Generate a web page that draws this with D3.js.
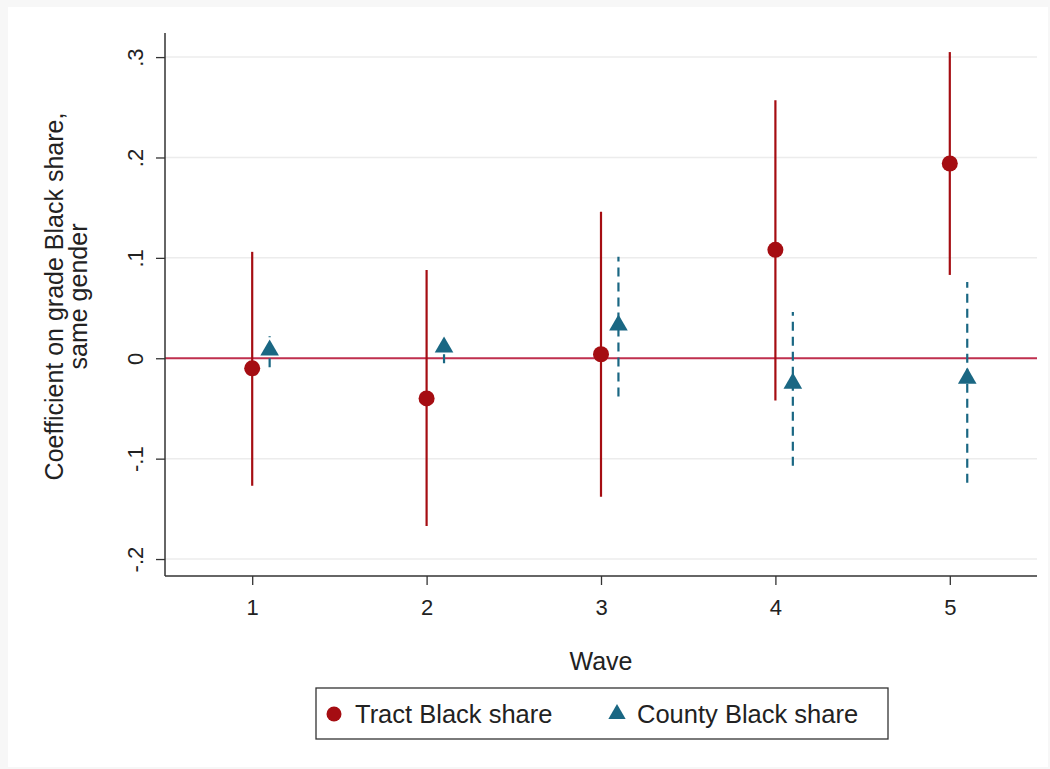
<!DOCTYPE html>
<html><head><meta charset="utf-8">
<script src="https://cdn.jsdelivr.net/npm/d3@7/dist/d3.min.js"></script>
<style>body{margin:0;background:#fff}svg{display:block}text{font-family:"Liberation Sans",Arial,sans-serif;fill:#222}</style>
</head><body><svg id="c" width="1050" height="769"></svg>
<script>
const waves = [1, 2, 3, 4, 5];
const tractCoef = [-0.010, -0.040, 0.004, 0.108, 0.194];
const tractLo = [-0.127, -0.167, -0.138, -0.042, 0.083];
const tractHi = [0.106, 0.088, 0.146, 0.257, 0.305];
const countyCoef = [0.008, 0.011, 0.033, -0.025, -0.020];
const countyLo = [-0.009, -0.005, -0.038, -0.107, -0.124];
const countyHi = [0.022, 0.025, 0.101, 0.046, 0.076];
const countyOffset = 0.1;
const yTicks = [-0.2, -0.1, 0, 0.1, 0.2, 0.3];
const yTickLabels = ["-.2", "-.1", "0", ".1", ".2", ".3"];
const legendLabels = ["Tract Black share", "County Black share"];

const tractColor = "#a50d12", countyColor = "#1a6783", zeroColor = "#c0304f";
const svg = d3.select("#c");
svg.append("rect").attr("width",1050).attr("height",769).attr("fill","#f7f7f7");
svg.append("rect").attr("x",8).attr("y",7).attr("width",1040).attr("height",760).attr("fill","#fff");

const L = 165, R = 1037, T = 33, B = 576;
const x = d3.scaleLinear().domain([0.5, 5.5]).range([L, R]);
const y = d3.scaleLinear().domain([-0.2169, 0.324]).range([B, T]);

// gridlines
svg.append("g").selectAll("line").data(yTicks).join("line")
  .attr("x1", L).attr("x2", R).attr("y1", d=>y(d)).attr("y2", d=>y(d))
  .attr("stroke", "#ececec").attr("stroke-width", 1.5);

// zero line
svg.append("line").attr("x1", L).attr("x2", R).attr("y1", y(0)).attr("y2", y(0))
  .attr("stroke", zeroColor).attr("stroke-width", 2);

// y axis
const yAxis = svg.append("g").attr("transform", `translate(${L},0)`)
  .call(d3.axisLeft(y).tickValues(yTicks).tickSize(9).tickFormat((d,i)=>yTickLabels[i]));
yAxis.select(".domain").attr("d", `M0,${T}V${B}`).attr("stroke","#333").attr("stroke-width",1.5);
yAxis.selectAll(".tick line").attr("stroke","#333").attr("stroke-width",1.3);
yAxis.selectAll(".tick text").attr("font-size", 22).attr("fill","#222")
  .attr("x", 0).attr("y", 0).attr("dx", 0).attr("dy", 0).attr("text-anchor","middle")
  .attr("transform", "translate(-22,0) rotate(-90)");

// x axis
const xAxis = svg.append("g").attr("transform", `translate(0,${B})`)
  .call(d3.axisBottom(x).tickValues(waves).tickSize(9).tickFormat(d3.format("d")));
xAxis.select(".domain").attr("d", `M${L},0H${R}`).attr("stroke","#333").attr("stroke-width",1.5);
xAxis.selectAll(".tick line").attr("stroke","#333").attr("stroke-width",1.3);
xAxis.selectAll(".tick text").attr("font-size", 22).attr("y", 23).attr("fill","#222");

// titles
svg.append("text").attr("x", x(3)).attr("y", 670).attr("text-anchor","middle")
  .attr("font-size", 25).text("Wave");
const yt = svg.append("text").attr("transform", `translate(63,${(T+B)/2 - 8}) rotate(-90)`)
  .attr("text-anchor","middle").attr("font-size", 25);
yt.append("tspan").attr("x",0).attr("dy",0).text("Coefficient on grade Black share,");
yt.append("tspan").attr("x",0).attr("dy",24).text("same gender");

// tract CIs
svg.append("g").selectAll("line").data(waves).join("line")
  .attr("x1", d=>x(d)).attr("x2", d=>x(d))
  .attr("y1", (d,i)=>y(tractLo[i])).attr("y2", (d,i)=>y(tractHi[i]))
  .attr("stroke", tractColor).attr("stroke-width", 2.2);
// county CIs
svg.append("g").selectAll("line").data(waves).join("line")
  .attr("x1", d=>x(d+countyOffset)).attr("x2", d=>x(d+countyOffset))
  .attr("y1", (d,i)=>y(countyLo[i])).attr("y2", (d,i)=>y(countyHi[i]))
  .attr("stroke", countyColor).attr("stroke-width", 2.2).attr("stroke-dasharray","9,6");

// markers
svg.append("g").selectAll("circle").data(waves).join("circle")
  .attr("cx", d=>x(d)).attr("cy", (d,i)=>y(tractCoef[i])).attr("r", 8)
  .attr("fill", tractColor);
const tri = d3.symbol().type(d3.symbolTriangle).size(150);
svg.append("g").selectAll("path").data(waves).join("path")
  .attr("d", tri)
  .attr("transform", (d,i)=>`translate(${x(d+countyOffset)},${y(countyCoef[i])})`)
  .attr("fill", countyColor);

// legend
const lg = svg.append("g");
lg.append("rect").attr("x",316).attr("y",688).attr("width",572).attr("height",51)
  .attr("fill","#fff").attr("stroke","#333").attr("stroke-width",1.3);
lg.append("circle").attr("cx",334).attr("cy",714).attr("r",7.5).attr("fill",tractColor);
lg.append("text").attr("x",355).attr("y",723).attr("font-size",25.5).text(legendLabels[0]);
lg.append("path").attr("d", d3.symbol().type(d3.symbolTriangle).size(130)).attr("transform","translate(617,714)").attr("fill",countyColor);
lg.append("text").attr("x",637).attr("y",723).attr("font-size",25.5).text(legendLabels[1]);
</script></body></html>
